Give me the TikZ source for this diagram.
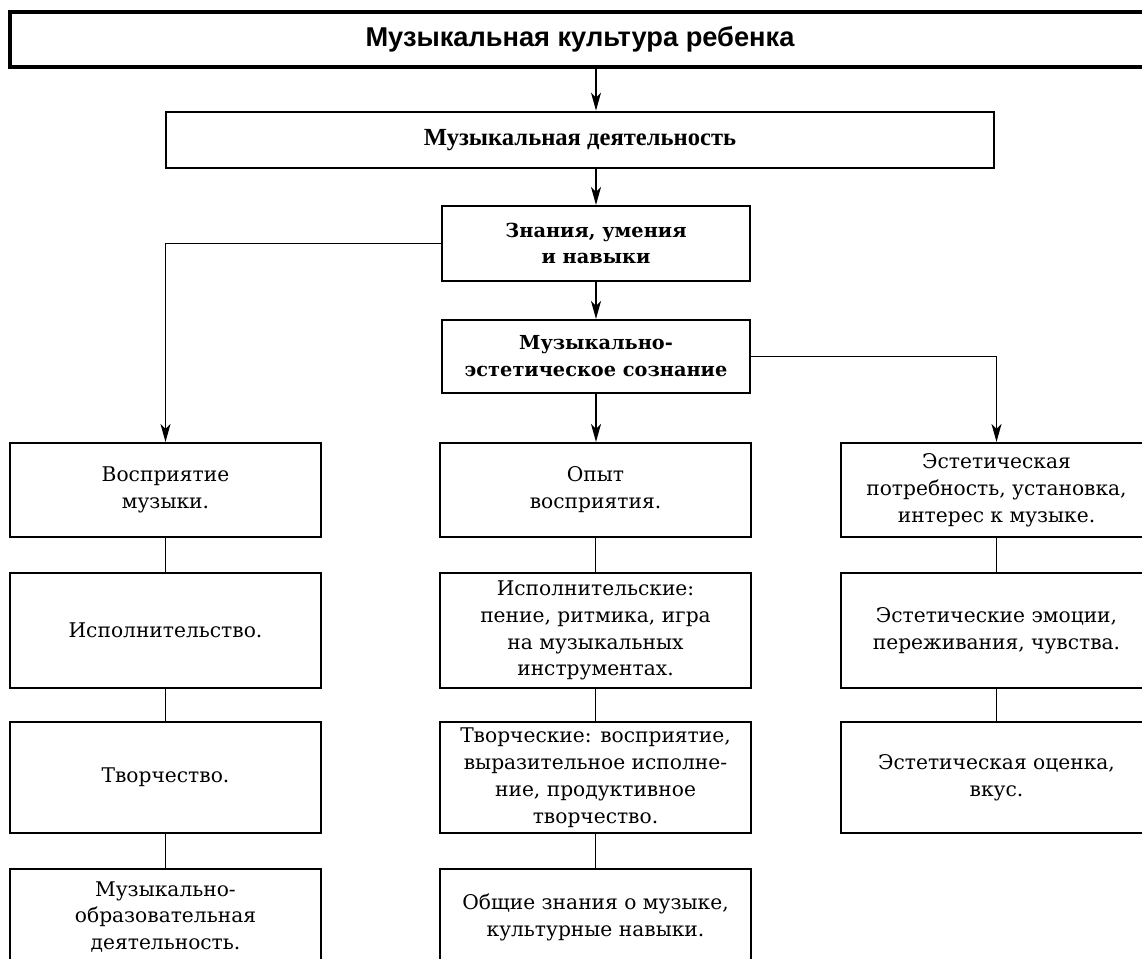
\documentclass[tikz,border=0pt]{standalone}
\usepackage{fontspec}
\setmainfont{DejaVu Serif}
\newfontfamily\titlefont{Liberation Sans}
\newfontfamily\headfont{Liberation Serif}
\usetikzlibrary{arrows.meta}

\begin{document}
\begin{tikzpicture}[x=0.02cm, y=-0.02cm]
    % ================= styles =================
    \tikzset{
        % boxes
        top_box/.style={draw=black, line width=2pt, fill=white, minimum width=22.8cm, minimum height=1.1cm, inner sep=0pt, font=\titlefont\bfseries\fontsize{15.5}{17}\selectfont},
        act_box/.style={draw=black, line width=1.6pt, fill=white, minimum width=16.56cm, minimum height=1.12cm, inner sep=0pt, font=\headfont\bfseries\fontsize{14}{16}\selectfont},
        mid_box/.style={draw=black, line width=1.2pt, fill=white, minimum width=6.16cm, inner sep=0pt, align=center, font=\bfseries\fontsize{11}{15.3}\selectfont},
        col_box/.style={draw=black, line width=1.2pt, fill=white, minimum width=6.22cm, inner sep=0pt, align=center, font=\fontsize{11.5}{15.3}\selectfont},
        % connectors
        arr/.style={line width=1pt, -{Stealth[length=0.36cm, width=0.2cm, inset=0.1cm]}},
        link/.style={line width=1pt}
    }
    \useasboundingbox (0,0) rectangle (1142,959);

    % ================= upper chain =================
    \node[top_box] (culture) at (580,39.5) {Музыкальная культура ребенка};
    \node[act_box] (activity) at (580,140) {Музыкальная деятельность};
    \node[mid_box, minimum height=1.5cm] (skills) at (596,243.5) {Знания, умения\\и навыки};
    \node[mid_box, minimum height=1.46cm] (mind) at (596,356.5) {Музыкально-\\эстетическое сознание};

    % ================= left column =================
    \node[col_box, minimum height=1.88cm] (percept) at (165.5,490) {Восприятие\\музыки.};
    \node[col_box, minimum height=2.3cm] (perform) at (165.5,630.5) {Исполнительство.};
    \node[col_box, minimum height=2.22cm] (create) at (165.5,777.5) {Творчество.};
    \node[col_box, minimum height=1.92cm] (educ) at (165.5,917) {Музыкально-\\образовательная\\деятельность.};

    % ================= middle column =================
    \node[col_box, minimum height=1.88cm] (exper) at (595.5,490) {Опыт\\восприятия.};
    \node[col_box, minimum height=2.3cm] (perfskill) at (595.5,630.5) {Исполнительские:\\пение, ритмика, игра\\на музыкальных\\инструментах.};
    \node[col_box, minimum height=2.22cm] (creatskill) at (595.5,777.5) {Творческие: восприятие,\\выразительное исполне-\\ние, продуктивное\\творчество.};
    \node[col_box, minimum height=1.92cm] (general) at (595.5,917) {Общие знания о музыке,\\культурные навыки.};

    % ================= right column =================
    \node[col_box, minimum height=1.88cm] (need) at (996.5,490) {Эстетическая\\потребность, установка,\\интерес к музыке.};
    \node[col_box, minimum height=2.3cm] (emotion) at (996.5,630.5) {Эстетические эмоции,\\переживания, чувства.};
    \node[col_box, minimum height=2.22cm] (taste) at (996.5,777.5) {Эстетическая оценка,\\вкус.};

    % --- arrows ---
    \draw[arr] (culture.south -| skills.north) -- (activity.north -| skills.north);
    \draw[arr] (activity.south -| skills.north) -- (skills.north);
    \draw[arr] (skills.south) -- (mind.north);
    \draw[arr] (skills.west) -| (percept.north);
    \draw[arr] (mind.south) -- (mind.south |- exper.north);
    \draw[arr] (mind.east) -| (need.north);

    % --- plain links ---
    \draw[link] (percept) -- (perform) (perform) -- (create) (create) -- (educ);
    \draw[link] (exper) -- (perfskill) (perfskill) -- (creatskill) (creatskill) -- (general);
    \draw[link] (need) -- (emotion) (emotion) -- (taste);

\end{tikzpicture}
\end{document}
